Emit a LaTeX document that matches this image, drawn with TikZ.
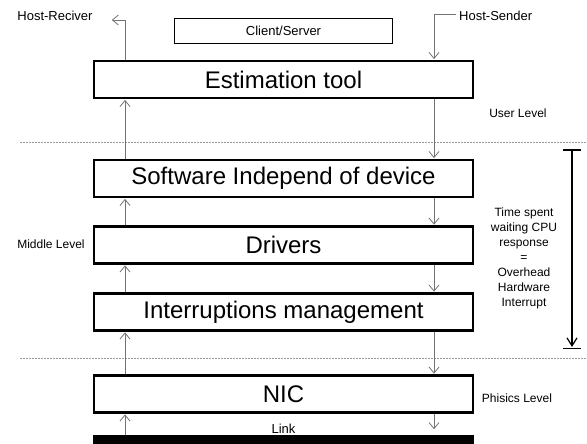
\documentclass[tikz,border=0pt]{standalone}
\usepackage{fontspec}
\setmainfont{Liberation Sans}
\usetikzlibrary{arrows.meta}
\begin{document}
\begin{tikzpicture}[x=1pt,y=-1pt,
  box/.style={draw=black, line width=2.2pt, minimum width=379pt, minimum height=37pt, inner sep=0pt, font=\fontsize{24}{28}\selectfont},
  small/.style={font=\fontsize{13}{15}\selectfont, inner sep=0pt},
  smaller/.style={font=\fontsize{12}{15}\selectfont, inner sep=0pt},
  arr/.style={draw=black!55, line width=0.8pt, -{Straight Barb[length=6pt,width=10pt]}, shorten >=0.8pt},
  sep/.style={draw=black!40, line width=0.6pt, dash pattern=on 2pt off 1pt},
  brk/.style={draw=black, line width=1.2pt}
]
\useasboundingbox (0,0) rectangle (587,444);
% boxes
\node[draw=black, line width=1.2pt, minimum width=218pt, minimum height=25pt, inner sep=0pt, font=\fontsize{13}{15}\selectfont] (cs) at (283.5,31) {Client/Server};
\node[box] (est) at (283.5,79.5) {Estimation tool};
\node[box] (sw) at (283.5,178.5) {Software Independ of device};
\node[box] (drv) at (283.5,245) {Drivers};
\node[box] (intr) at (283.5,312) {Interruptions management};
\node[box] (nic) at (283.5,394) {NIC};
\node[fill=black, minimum width=381pt, minimum height=9pt, inner sep=0pt] (bar) at (283.5,439.5) {};
% column coordinates
\coordinate (L) at (125,0);
\coordinate (R) at (434,0);
\coordinate (hr) at (111,20);
\coordinate (hs) at (456,14);
% labels
\node[small] (hrt) at (55,16) {Host-Reciver};
\node[small, anchor=west] (hst) at (459,16) {Host-Sender};
\node[smaller] (ul) at (518,113) {User Level};
\node[smaller] (ml) at (51,244) {Middle Level};
\node[smaller] (pl) at (517,398) {Phisics Level};
\node[small, anchor=base] (lk) at (283.5,433) {Link};
\node[smaller, align=center] (tm) at (524,258) {Time spent\\waiting CPU\\response\\=\\Overhead\\Hardware\\Interrupt};
% dashed separators
\coordinate (d1a) at (20,142); \coordinate (d1b) at (587,142);
\coordinate (d2a) at (20,358); \coordinate (d2b) at (587,358);
\draw[sep] (d1a) -- (d1b);
\draw[sep] (d2a) -- (d2b);
% upward arrows
\draw[arr] (est.north -| L) |- (hr);
\draw[arr] (sw.north -| L) -- (est.south -| L);
\draw[arr] (drv.north -| L) -- (sw.south -| L);
\draw[arr] (intr.north -| L) -- (drv.south -| L);
\draw[arr] (nic.north -| L) -- (intr.south -| L);
\draw[arr] (bar.north -| L) -- (nic.south -| L);
% downward arrows
\draw[arr] (hs) -| (est.north -| R);
\draw[arr] (est.south -| R) -- (sw.north -| R);
\draw[arr] (sw.south -| R) -- (drv.north -| R);
\draw[arr] (drv.south -| R) -- (intr.north -| R);
\draw[arr] (intr.south -| R) -- (nic.north -| R);
\coordinate (nb) at (434,430);
\draw[arr] (nic.south -| R) -- (nb);
% bracket
\coordinate (bt) at (572,150); \coordinate (bb) at (572,347);
\coordinate (t1) at (563,150); \coordinate (t2) at (581,150);
\coordinate (b1) at (563,348); \coordinate (b2) at (581,348);
\draw[brk, -{Straight Barb[length=8pt,width=10pt]}] (bt) -- (bb);
\draw[brk] (t1) -- (t2);
\draw[draw=black, line width=0.8pt] (b1) -- (b2);
\end{tikzpicture}
\end{document}
